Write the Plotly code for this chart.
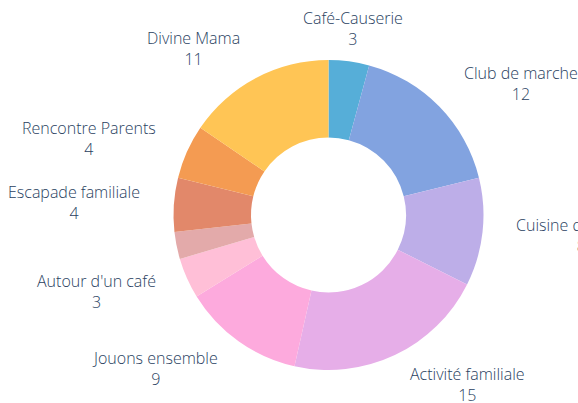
import math
import plotly.graph_objects as go

labels = ["Café-Causerie", "Club de marche", "Cuisine du monde", "Activité familiale",
          "Jouons ensemble", "Autour d'un café", "Autre", "Escapade familiale",
          "Rencontre Parents", "Divine Mama"]
values = [3, 12, 8, 15, 9, 3, 2, 4, 4, 11]
show_label = [True, True, True, True, True, True, False, True, True, True]
colors = ["#56AED8", "#82A3E0", "#BDAEE8", "#E6AEE8", "#FDAADD",
          "#FFBFD7", "#E3AAAA", "#E2886A", "#F49B52", "#FFC555"]

W, H = 578, 403
CX, CY_UP = 328.5, 188.0     # pie centre in paper pixels (x from left, y from bottom)
RADIUS = 155.0
LABEL_R = 188.0

fig = go.Figure(go.Pie(
    labels=labels,
    values=values,
    hole=0.5,
    sort=False,
    direction="clockwise",
    rotation=0,
    marker=dict(colors=colors, line=dict(width=0)),
    textinfo="none",
    domain=dict(x=[(CX - RADIUS) / W, (CX + RADIUS) / W],
                y=[(CY_UP - RADIUS) / H, (CY_UP + RADIUS) / H]),
    showlegend=False,
))

total = sum(values)
cum = 0
for lab, val, show in zip(labels, values, show_label):
    mid = (cum + val / 2) / total * 2 * math.pi
    cum += val
    if not show:
        continue
    s, c = math.sin(mid), math.cos(mid)
    if s > 0.3:
        xa = "left"
    elif s < -0.3:
        xa = "right"
    else:
        xa = "center"
    fig.add_annotation(
        x=(CX + LABEL_R * s) / W, y=(CY_UP + LABEL_R * c) / H,
        xref="paper", yref="paper",
        text=f"{lab}<br>{val}",
        showarrow=False, xanchor=xa, yanchor="middle", align="center",
        borderpad=0,
        font=dict(size=16, color="#2a3f5f", family="Open Sans", weight=300),
    )

fig.update_layout(
    width=W, height=H,
    margin=dict(l=0, r=0, t=0, b=0, autoexpand=False),
    paper_bgcolor="white",
    plot_bgcolor="white",
    font=dict(family="Open Sans", color="#2a3f5f"),
    showlegend=False,
)

fig.write_html(
    "out.html",
    config={"displayModeBar": False},
    post_script="document.body.style.margin='0';document.body.style.overflow='hidden';",
)
